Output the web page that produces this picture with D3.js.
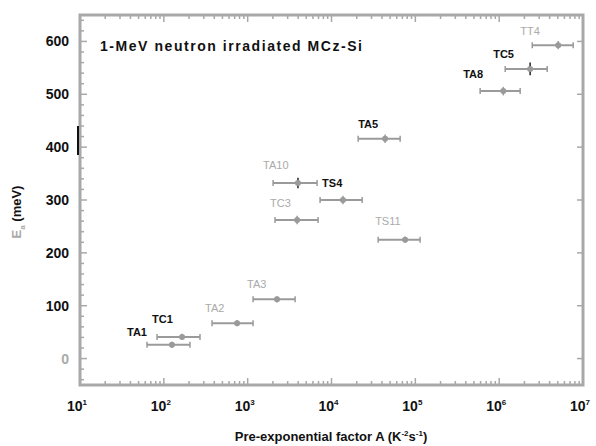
<!DOCTYPE html>
<html>
<head>
<meta charset="utf-8">
<script src="https://cdn.jsdelivr.net/npm/d3@7"></script>
<style>
  body { margin: 0; background: #fff; }
  text { font-family: "Liberation Sans", Arial, sans-serif; }
</style>
</head>
<body>
<div id="chart"></div>
<script>
// defect levels
var defects = ["TA1", "TC1", "TA2", "TA3", "TC3", "TA10", "TS4", "TA5", "TS11", "TA8", "TC5", "TT4"];
var preFactor = [125, 165, 748, 2240, 3890, 3980, 13700, 43600, 75500, 1.12e6, 2.34e6, 5.06e6];
var preFactorLow = [63, 83, 376, 1160, 2120, 2010, 7310, 20800, 36000, 5.93e5, 1.18e6, 2.48e6];
var preFactorHigh = [205, 270, 1160, 3680, 6920, 6730, 23200, 65900, 114000, 1.78e6, 3.74e6, 7.64e6];
var activationEnergy = [26, 41, 67, 112, 262, 332, 300, 416, 225, 506, 548, 593];
var energyError = [6, 6, 6, 6, 8, 10, 8, 8, 6, 8, 12, 8];
var darkLabel = [true, true, false, false, false, false, true, true, false, true, true, false];

var xTickExp = [1, 2, 3, 4, 5, 6, 7];
var yTicks = [0, 100, 200, 300, 400, 500, 600];

// label placement (offset from left end of the bar)
var labelDx = [-20, -5, -7, -6, -5, -10, 2, 0, -3, -17, -12, -12];
var labelDy = [-9, -14, -11, -11, -13, -14, -13, -11, -15, -13, -11, -10];

var width = 596, height = 446;
var margin = { top: 15, right: 13, bottom: 61, left: 80 };

var svg = d3.select("#chart").append("svg")
    .attr("width", width)
    .attr("height", height);

var x = d3.scaleLog()
    .domain([1e1, 1e7])
    .range([margin.left, width - margin.right]);
var y = d3.scaleLinear()
    .domain([-50, 650])
    .range([height - margin.bottom, margin.top]);

var frameColor = "#a8a8a8";
var markColor = "#9a9a9a";

// frame
svg.append("rect")
    .attr("x", x.range()[0])
    .attr("y", y.range()[1])
    .attr("width", x.range()[1] - x.range()[0])
    .attr("height", y.range()[0] - y.range()[1])
    .style("fill", "none")
    .style("stroke", frameColor)
    .style("stroke-width", 3);

// inward ticks on all sides
var yMinor = d3.range(-40, 650, 20);
var x0 = x.range()[0], x1 = x.range()[1], y0 = y.range()[0], y1 = y.range()[1];

svg.append("g").selectAll("line.ym")
    .data(yMinor)
    .enter().append("line")
    .attr("x1", x0).attr("x2", function (d) { return x0 + (d % 100 === 0 ? 7 : 4); })
    .attr("y1", function (d) { return y(d); }).attr("y2", function (d) { return y(d); })
    .style("stroke", frameColor).style("stroke-width", 1.5);

svg.append("g").selectAll("line.yr")
    .data(yTicks)
    .enter().append("line")
    .attr("x1", x1).attr("x2", x1 - 6)
    .attr("y1", function (d) { return y(d); }).attr("y2", function (d) { return y(d); })
    .style("stroke", frameColor).style("stroke-width", 1.5);

var xMinor = [];
xTickExp.forEach(function (e) {
    for (var k = 1; k < 10; k++) {
        var v = k * Math.pow(10, e);
        if (v <= 1e7) xMinor.push(v);
    }
});
svg.append("g").selectAll("line.xb")
    .data(xMinor)
    .enter().append("line")
    .attr("x1", function (d) { return x(d); }).attr("x2", function (d) { return x(d); })
    .attr("y1", y0).attr("y2", function (d) { return y0 - (Math.log10(d) % 1 === 0 ? 7 : 4); })
    .style("stroke", frameColor).style("stroke-width", 1.5);
svg.append("g").selectAll("line.xt")
    .data(xMinor)
    .enter().append("line")
    .attr("x1", function (d) { return x(d); }).attr("x2", function (d) { return x(d); })
    .attr("y1", y1).attr("y2", function (d) { return y1 + (Math.log10(d) % 1 === 0 ? 7 : 4); })
    .style("stroke", frameColor).style("stroke-width", 1.5);

// scan mark on the left spine
svg.append("line")
    .attr("x1", x0 - 2).attr("x2", x0 - 2)
    .attr("y1", y(440)).attr("y2", y(385))
    .style("stroke", "#111").style("stroke-width", 2);

// y tick labels
svg.append("g").selectAll("text")
    .data(yTicks)
    .enter().append("text")
    .attr("x", x0 - 11)
    .attr("y", function (d) { return y(d) + 5; })
    .attr("text-anchor", "end")
    .style("font-size", "14px")
    .style("font-weight", "bold")
    .style("fill", function (d) { return d === 0 ? "#aaa" : "#111"; })
    .text(function (d) { return d; });

// x tick labels
var xl = svg.append("g").selectAll("text")
    .data(xTickExp)
    .enter().append("text")
    .attr("x", function (d) { return x(Math.pow(10, d)) - 3; })
    .attr("y", y0 + 26)
    .attr("text-anchor", "middle")
    .style("font-size", "14px")
    .style("font-weight", "bold")
    .style("fill", "#111");
xl.append("tspan").text("10");
xl.append("tspan")
    .attr("dy", -6)
    .style("font-size", "8px")
    .text(function (d) { return d; });

// axis titles
var xt = svg.append("text")
    .attr("x", 331)
    .attr("y", 441)
    .attr("text-anchor", "middle")
    .style("font-size", "13px")
    .style("font-weight", "bold")
    .style("fill", "#111");
xt.append("tspan").text("Pre-exponential factor A (K");
xt.append("tspan").attr("dy", -5).style("font-size", "8px").text("-2");
xt.append("tspan").attr("dy", 5).text("s");
xt.append("tspan").attr("dy", -5).style("font-size", "8px").text("-1");
xt.append("tspan").attr("dy", 5).text(")");

var yt = svg.append("text")
    .attr("transform", "translate(21,212) rotate(-90)")
    .attr("text-anchor", "middle")
    .style("font-size", "13px")
    .style("font-weight", "bold");
yt.append("tspan").style("fill", "#aaa").text("E");
yt.append("tspan").attr("dy", 4).style("font-size", "8px").style("fill", "#aaa").text("a");
yt.append("tspan").attr("dy", -4).style("fill", "#111").text(" (meV)");

// title
svg.append("text")
    .attr("x", 100)
    .attr("y", 51)
    .attr("textLength", 262)
    .style("font-size", "14px")
    .style("font-weight", "bold")
    .style("fill", "#111")
    .text("1-MeV neutron irradiated MCz-Si");

// points with error bars
var pts = svg.append("g").selectAll("g")
    .data(defects)
    .enter().append("g");

pts.append("line")
    .attr("x1", function (d, i) { return x(preFactorLow[i]); })
    .attr("x2", function (d, i) { return x(preFactorHigh[i]); })
    .attr("y1", function (d, i) { return y(activationEnergy[i]); })
    .attr("y2", function (d, i) { return y(activationEnergy[i]); })
    .style("stroke", markColor).style("stroke-width", 2);

[preFactorLow, preFactorHigh].forEach(function (arr) {
    pts.append("line")
        .attr("x1", function (d, i) { return x(arr[i]); })
        .attr("x2", function (d, i) { return x(arr[i]); })
        .attr("y1", function (d, i) { return y(activationEnergy[i]) - 3; })
        .attr("y2", function (d, i) { return y(activationEnergy[i]) + 3; })
        .style("stroke", markColor).style("stroke-width", 1.5);
});

pts.append("line")
    .attr("x1", function (d, i) { return x(preFactor[i]); })
    .attr("x2", function (d, i) { return x(preFactor[i]); })
    .attr("y1", function (d, i) { return y(activationEnergy[i] + energyError[i]); })
    .attr("y2", function (d, i) { return y(activationEnergy[i] - energyError[i]); })
    .style("stroke", function (d, i) { return energyError[i] >= 10 ? "#222" : markColor; })
    .style("stroke-width", 1.5);

pts.append("circle")
    .attr("cx", function (d, i) { return x(preFactor[i]); })
    .attr("cy", function (d, i) { return y(activationEnergy[i]); })
    .attr("r", 3)
    .style("fill", markColor);

pts.append("text")
    .attr("x", function (d, i) { return x(preFactorLow[i]) + labelDx[i]; })
    .attr("y", function (d, i) { return y(activationEnergy[i]) + labelDy[i]; })
    .style("font-size", "11px")
    .style("font-weight", function (d, i) { return darkLabel[i] ? "bold" : "normal"; })
    .style("fill", function (d, i) { return darkLabel[i] ? "#111" : "#aaa"; })
    .text(function (d) { return d; });
</script>
</body>
</html>
